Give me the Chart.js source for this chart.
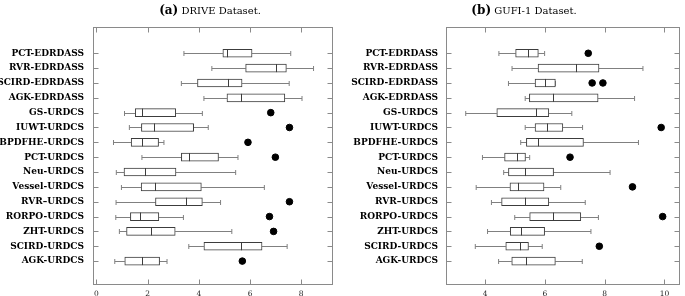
<!DOCTYPE html>
<html lang="en">
<head>
  <meta charset="UTF-8" />
  <title>DRIVE / GUFI-1 box plots</title>
  <script src="https://cdn.jsdelivr.net/npm/chart.js"></script>
  <style>
    body { margin: 0; background: #fff; }
    #wrap { position: relative; width: 685px; height: 296px; overflow: hidden; }
    .panel { position: absolute; top: 0; height: 296px; }
    .title { position: absolute; top: 3px; transform: translateX(-50%); white-space: nowrap;
             font-family: 'DejaVu Serif', serif; font-size: 10px; color: #000; }
    .title b { font-size: 12px; }
  </style>
</head>
<body>
  <div id="wrap">
    <div class="panel" style="left:0;width:340px"><canvas id="drive" width="340" height="296"></canvas></div>
    <div class="panel" style="left:340px;width:345px"><canvas id="gufi" width="345" height="296"></canvas></div>
    <div class="title" style="left:210px"><b>(a)</b> DRIVE Dataset.</div>
    <div class="title" style="left:524px"><b>(b)</b> GUFI-1 Dataset.</div>
  </div>

  <script>
    const categories = [
      'PCT-EDRDASS', 'RVR-EDRDASS', 'SCIRD-EDRDASS', 'AGK-EDRDASS', 'GS-URDCS',
      'IUWT-URDCS', 'BPDFHE-URDCS', 'PCT-URDCS', 'Neu-URDCS', 'Vessel-URDCS',
      'RVR–URDCS', 'RORPO-URDCS', 'ZHT-URDCS', 'SCIRD-URDCS', 'AGK-URDCS'
    ];

    // (a) DRIVE
    const driveLow    = [3.42, 4.51, 3.32, 4.20, 1.10, 1.29, 0.67, 1.78, 0.78, 0.98, 0.77, 0.76, 0.90, 3.61, 0.72];
    const driveQ1     = [4.94, 5.83, 3.95, 5.10, 1.52, 1.76, 1.36, 3.32, 1.08, 1.75, 2.31, 1.33, 1.18, 4.20, 1.11];
    const driveMedian = [5.10, 7.01, 5.14, 5.65, 1.80, 2.27, 1.80, 3.63, 1.91, 2.30, 3.49, 1.70, 2.12, 5.65, 1.78];
    const driveQ3     = [6.08, 7.42, 5.69, 7.36, 3.10, 3.80, 2.43, 4.77, 3.11, 4.10, 4.14, 2.44, 3.08, 6.47, 2.47];
    const driveHigh   = [7.59, 8.48, 7.53, 8.03, 4.14, 4.37, 2.64, 5.53, 5.44, 6.56, 4.85, 3.40, 5.29, 7.45, 2.76];
    const driveOutliers = [[], [], [], [], [6.81], [7.54], [5.92], [6.99], [], [], [7.54], [6.76], [6.92], [], [5.70]];
    const driveTicks = [0, 2, 4, 6, 8];

    // (b) GUFI-1
    const gufiLow    = [4.46, 4.90, 4.78, 5.34, 3.35, 5.34, 5.19, 3.91, 4.62, 3.70, 4.21, 4.99, 4.08, 3.67, 4.45];
    const gufiQ1     = [5.02, 5.77, 5.67, 5.48, 4.39, 5.67, 5.38, 4.65, 4.78, 4.83, 4.55, 5.49, 4.84, 4.69, 4.89];
    const gufiMedian = [5.44, 7.04, 6.00, 6.27, 5.70, 6.07, 5.76, 5.05, 5.32, 5.09, 5.32, 6.28, 5.19, 5.15, 5.37];
    const gufiQ3     = [5.78, 7.81, 6.35, 7.78, 6.13, 6.60, 7.29, 5.35, 6.29, 5.97, 6.13, 7.20, 5.99, 5.45, 6.35];
    const gufiHigh   = [5.99, 9.28, 6.35, 9.00, 6.90, 7.26, 9.13, 5.49, 8.18, 6.53, 7.35, 7.79, 7.54, 5.91, 7.25];
    const gufiOutliers = [[7.45], [], [7.58, 7.94], [], [], [9.89], [], [6.84], [], [8.93], [], [9.94], [], [7.82], []];
    const gufiTicks = [4, 6, 8, 10];

    const frameColor = '#8a8a8a';
    const whiskerColor = '#808080';
    const boxColor = '#3c3c3c';

    function boxChart(id, s) {
      const boxes = categories.map((c, i) => ({ x: [s.q1[i], s.q3[i]], y: i }));
      const dots = [];
      s.outliers.forEach((list, i) => list.forEach(v => dots.push({ x: v, y: i })));

      const parts = {
        id: 'parts',
        beforeDatasetsDraw(chart) {
          const { ctx, scales: { x, y } } = chart;
          ctx.save();
          ctx.strokeStyle = whiskerColor;
          ctx.lineWidth = 1;
          categories.forEach((c, i) => {
            const py = Math.round(y.getPixelForValue(i)) + 0.5;
            const lo = x.getPixelForValue(s.low[i]), a = x.getPixelForValue(s.q1[i]);
            const b = x.getPixelForValue(s.q3[i]), hi = x.getPixelForValue(s.high[i]);
            ctx.beginPath();
            ctx.moveTo(lo, py); ctx.lineTo(a, py);
            ctx.moveTo(b, py); ctx.lineTo(hi, py);
            ctx.moveTo(lo, py - 2.5); ctx.lineTo(lo, py + 2.5);
            ctx.moveTo(hi, py - 2.5); ctx.lineTo(hi, py + 2.5);
            ctx.stroke();
          });
          ctx.restore();
        },
        afterDatasetsDraw(chart) {
          const { ctx, chartArea: ca, scales: { x, y } } = chart;
          ctx.save();
          ctx.strokeStyle = boxColor;
          ctx.lineWidth = 1;
          categories.forEach((c, i) => {
            const py = y.getPixelForValue(i);
            const m = Math.round(x.getPixelForValue(s.median[i])) + 0.5;
            ctx.beginPath();
            ctx.moveTo(m, py - 4); ctx.lineTo(m, py + 4);
            ctx.stroke();
          });
          // frame and inward ticks
          ctx.strokeStyle = frameColor;
          const l = Math.round(ca.left) + 0.5, r = Math.round(ca.right) - 0.5;
          const t = Math.round(ca.top) + 0.5, btm = Math.round(ca.bottom) - 0.5;
          ctx.strokeRect(l, t, r - l, btm - t);
          ctx.beginPath();
          categories.forEach((c, i) => {
            const py = Math.round(y.getPixelForValue(i)) + 0.5;
            ctx.moveTo(l, py); ctx.lineTo(l + 5, py);
            ctx.moveTo(r, py); ctx.lineTo(r - 5, py);
          });
          s.ticks.forEach(v => {
            const px = Math.round(x.getPixelForValue(v)) + 0.5;
            ctx.moveTo(px, t); ctx.lineTo(px, t + 5);
            ctx.moveTo(px, btm); ctx.lineTo(px, btm - 5);
          });
          ctx.stroke();
          ctx.restore();
        }
      };

      return new Chart(document.getElementById(id), {
        type: 'bar',
        data: {
          datasets: [
            {
              type: 'bar',
              data: boxes,
              backgroundColor: '#ffffff',
              borderColor: boxColor,
              borderWidth: 1,
              borderSkipped: false,
              barThickness: 8,
              order: 2
            },
            {
              type: 'scatter',
              data: dots,
              backgroundColor: '#000',
              borderColor: '#000',
              pointRadius: 3.3,
              order: 1
            }
          ]
        },
        options: {
          indexAxis: 'y',
          responsive: false,
          animation: false,
          layout: { padding: { top: 27, right: s.padRight, left: 0, bottom: 0 } },
          plugins: { legend: { display: false }, tooltip: { enabled: false } },
          scales: {
            x: {
              type: 'linear',
              min: s.min, max: s.max,
              offset: false,
              grid: { display: false, drawTicks: false },
              border: { display: false },
              afterBuildTicks: axis => { axis.ticks = s.ticks.map(v => ({ value: v })); },
              afterFit: axis => { axis.height = 11; axis.paddingLeft = 0; axis.paddingRight = 0; },
              ticks: { padding: 5, color: '#222', font: { family: 'DejaVu Serif', size: 7.5 } }
            },
            y: {
              type: 'linear',
              reverse: true,
              offset: false,
              min: -1.77, max: 15.61,
              grid: { display: false, drawTicks: false, offset: false },
              border: { display: false },
              afterBuildTicks: axis => { axis.ticks = categories.map((c, i) => ({ value: i })); },
              afterFit: axis => { axis.width = s.axisWidth; axis.paddingTop = 0; axis.paddingBottom = 0; },
              ticks: {
                padding: s.labelPad,
                color: '#000',
                autoSkip: false,
                font: { family: 'DejaVu Serif', size: 9, weight: 'bold' },
                callback: v => categories[v]
              }
            }
          }
        },
        plugins: [parts]
      });
    }

    boxChart('drive', {
      low: driveLow, q1: driveQ1, median: driveMedian, q3: driveQ3, high: driveHigh,
      outliers: driveOutliers, ticks: driveTicks, min: -0.13, max: 9.24,
      axisWidth: 93, labelPad: 9, padRight: 7
    });
    boxChart('gufi', {
      low: gufiLow, q1: gufiQ1, median: gufiMedian, q3: gufiQ3, high: gufiHigh,
      outliers: gufiOutliers, ticks: gufiTicks, min: 2.69, max: 10.52,
      axisWidth: 106, labelPad: 8, padRight: 2
    });
  </script>
</body>
</html>
